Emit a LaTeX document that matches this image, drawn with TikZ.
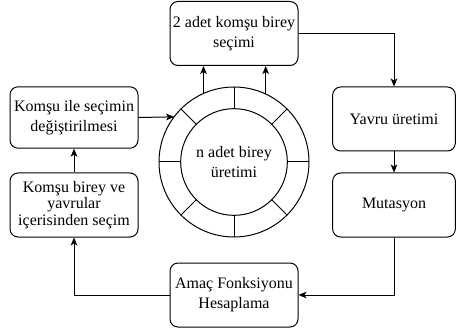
\documentclass[tikz,border=0pt]{standalone}
\usepackage{fontspec}
\setmainfont{Liberation Serif}
\newfontfamily\kutufont{Liberation Serif}
\usepackage{tikz}
\usetikzlibrary{shapes,arrows.meta,positioning}
\tikzstyle{stepbox} = [rectangle,rounded corners=6pt,minimum width=96pt,minimum height=48pt,text centered,align=center,draw=black,line width=0.75pt,inner sep=2pt,font=\kutufont\fontsize{12}{15}\selectfont]
\tikzstyle{ring} = [circle,draw=black,line width=0.75pt,inner sep=0pt,outer sep=0pt]
\tikzstyle{arrow} = [line width=0.75pt,->,>={Stealth[length=6pt,width=5pt,inset=1.5pt]}]

\begin{document}
\begin{tikzpicture}[x=0.75pt,y=-0.75pt]
\useasboundingbox (0,0) rectangle (456,331);
\node (secim) [stepbox] at (234,33.5) {2 adet komşu birey\\seçimi};
\node (yavru) [stepbox,minimum width=92pt] at (394,119) {Yavru üretimi};
\node (mutasyon) [stepbox,minimum width=92pt] at (394,205) {Mutasyon};
\node (amac) [stepbox] at (234,295) {Amaç Fonksiyonu\\Hesaplama};
\node (komsusecim) [stepbox,minimum height=46pt] at (74,117.5) {Komşu ile seçimin\\değiştirilmesi};
\node (komsubirey) [stepbox,font=\kutufont\fontsize{12}{12.5}\selectfont] at (74,205) {Komşu birey ve\\yavrular\\içerisinden seçim};

% birey halkasi
\node (dis) [ring,minimum size=112.5pt] at (234,162) {};
\node (ic) [ring,minimum size=80pt,align=center,font=\kutufont\fontsize{12}{15}\selectfont] at (234,162) {n adet birey\\üretimi};
\foreach \a in {0,45,...,315}
  \draw [line width=0.75pt] (ic.\a) -- (dis.\a);

\draw [arrow] (dis.114.4) -- (dis.114.4 |- secim.south);
\draw [arrow] (dis.65.6) -- (dis.65.6 |- secim.south);
\draw [arrow] (secim) -| (yavru);
\draw [arrow] (yavru) -- (mutasyon);
\draw [arrow] (mutasyon) |- (amac);
\draw [arrow] (amac) -| (komsubirey);
\draw [arrow] (komsubirey) -- (komsusecim);
\draw [arrow] (komsusecim.east) -- (dis.143.6);
\end{tikzpicture}
\end{document}
